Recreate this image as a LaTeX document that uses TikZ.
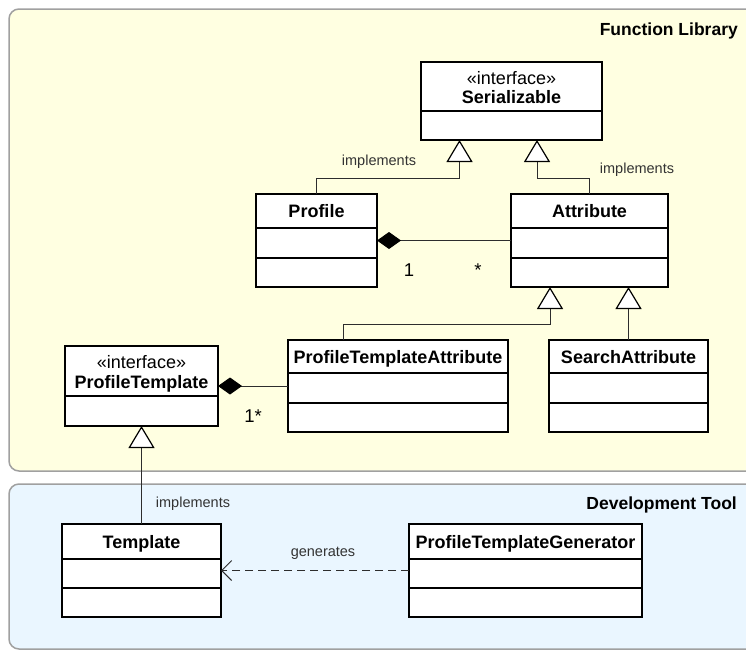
\documentclass[tikz,border=0pt]{standalone}
\usepackage{fontspec}
\setmainfont{Liberation Sans}
\usetikzlibrary{arrows.meta,calc}
\definecolor{libfill}{RGB}{255,255,225}
\definecolor{toolfill}{RGB}{234,246,255}
\definecolor{panelline}{RGB}{160,160,160}
\definecolor{connline}{RGB}{45,45,45}

\begin{document}
\begin{tikzpicture}[x=1pt,y=-1pt,
  panel/.style={draw=panelline, line width=1.5pt, rounded corners=10pt},
  umlbox/.style={draw=black, line width=1.6pt, fill=white, inner sep=0pt, outer sep=0pt, anchor=north west},
  divider/.style={draw=black, line width=1.6pt},
  clsname/.style={font=\fontsize{18}{20}\selectfont\bfseries, inner sep=0pt, text height=12.9pt, text depth=0pt},
  stereo/.style={font=\fontsize{18}{20}\selectfont, inner sep=0pt, text height=12.9pt, text depth=0pt},
  paneltitle/.style={font=\fontsize{17.5}{20}\selectfont\bfseries, inner sep=0pt, text height=12.6pt, text depth=0pt, anchor=east},
  lbl/.style={font=\fontsize{14.5}{16}\selectfont, inner sep=0pt, text height=10.4pt, text depth=0pt, text=black!80},
  mult/.style={font=\fontsize{18.5}{20}\selectfont, inner sep=0pt, text height=13.3pt, text depth=0pt},
  gen/.style={draw=connline, line width=1pt,
    -{Triangle[open, length=22pt, width=26pt, line width=1.2pt, fill=white, color=black]}},
  comp/.style={draw=connline, line width=1pt,
    {Diamond[length=24pt, width=17pt, fill=black, color=black]}-},
  dep/.style={draw=connline, line width=1.2pt, dash pattern=on 8pt off 5pt,
    -{Straight Barb[length=10pt, width=20pt, line width=1pt, color=connline]}}
]
\useasboundingbox (0,0) rectangle (746,651);

% package panels
\draw[panel, fill=libfill] (9,9) rectangle (775,471);
\draw[panel, fill=toolfill] (9,484) rectangle (775,649);
\node[paneltitle] (libT) at (738,29) {Function Library};
\node[paneltitle] (toolT) at (737,503) {Development Tool};

% classes
\node[umlbox, minimum width=181pt, minimum height=78pt] (Ser) at (421,62) {};
\draw[divider] ($(Ser.north west)+(0,49)$) -- ($(Ser.north east)+(0,49)$);
\node[stereo] (SerS) at ($(Ser.north)+(0,16)$) {«interface»};
\node[clsname] (SerN) at ($(Ser.north)+(0,35)$) {Serializable};

\node[umlbox, minimum width=121pt, minimum height=93pt] (Profile) at (256,194) {};
\draw[divider] ($(Profile.north west)+(0,34)$) -- ($(Profile.north east)+(0,34)$);
\draw[divider] ($(Profile.north west)+(0,64)$) -- ($(Profile.north east)+(0,64)$);
\node[clsname] (ProfileN) at ($(Profile.north)+(0,17)$) {Profile};

\node[umlbox, minimum width=157pt, minimum height=93pt] (Attr) at (511,194) {};
\draw[divider] ($(Attr.north west)+(0,34)$) -- ($(Attr.north east)+(0,34)$);
\draw[divider] ($(Attr.north west)+(0,64)$) -- ($(Attr.north east)+(0,64)$);
\node[clsname] (AttrN) at ($(Attr.north)+(0,17)$) {Attribute};

\node[umlbox, minimum width=220pt, minimum height=92pt] (PTA) at (288,340) {};
\draw[divider] ($(PTA.north west)+(0,33)$) -- ($(PTA.north east)+(0,33)$);
\draw[divider] ($(PTA.north west)+(0,63)$) -- ($(PTA.north east)+(0,63)$);
\node[clsname] (PTAN) at ($(PTA.north)+(0,17)$) {ProfileTemplateAttribute};

\node[umlbox, minimum width=159pt, minimum height=92pt] (SA) at (549,340) {};
\draw[divider] ($(SA.north west)+(0,33)$) -- ($(SA.north east)+(0,33)$);
\draw[divider] ($(SA.north west)+(0,63)$) -- ($(SA.north east)+(0,63)$);
\node[clsname] (SAN) at ($(SA.north)+(0,17)$) {SearchAttribute};

\node[umlbox, minimum width=153pt, minimum height=80pt] (PT) at (65,346) {};
\draw[divider] ($(PT.north west)+(0,50)$) -- ($(PT.north east)+(0,50)$);
\node[stereo] (PTS) at ($(PT.north)+(0,16)$) {«interface»};
\node[clsname] (PTN) at ($(PT.north)+(0,36)$) {ProfileTemplate};

\node[umlbox, minimum width=159pt, minimum height=93pt] (Tmpl) at (62,524) {};
\draw[divider] ($(Tmpl.north west)+(0,35)$) -- ($(Tmpl.north east)+(0,35)$);
\draw[divider] ($(Tmpl.north west)+(0,64)$) -- ($(Tmpl.north east)+(0,64)$);
\node[clsname] (TmplN) at ($(Tmpl.north)+(0,18)$) {Template};

\node[umlbox, minimum width=233pt, minimum height=93pt] (PTG) at (409,524) {};
\draw[divider] ($(PTG.north west)+(0,35)$) -- ($(PTG.north east)+(0,35)$);
\draw[divider] ($(PTG.north west)+(0,64)$) -- ($(PTG.north east)+(0,64)$);
\node[clsname] (PTGN) at ($(PTG.north)+(0,18)$) {ProfileTemplateGenerator};

% realisations and generalisations
\draw[gen] (Profile.north) -- ++(0,-16) -| ($(Ser.south)+(-52,0)$);
\draw[gen] (Attr.north) -- ++(0,-16) -| ($(Ser.south)+(25.5,0)$);
\draw[gen] ($(PTA.north)+(-55,0)$) -- ++(0,-16) -| ($(Attr.south)+(-39.5,0)$);
\draw[gen] (SA.north) -- (SA.north |- Attr.south);
\draw[gen] (Tmpl.north) -- (PT.south);

% compositions
\draw[comp] (Profile.east) -- (Attr.west |- Profile.east);
\draw[comp] (PT.east) -- (PTA.west |- PT.east);

% dependency
\draw[dep] (PTG.west) -- (Tmpl.east |- PTG.west);

% connector labels
\node[lbl] (implL) at (379,160) {implements};
\node[lbl] (implR) at (637,168) {implements};
\node[lbl] (implB) at (193,502) {implements};
\node[lbl] (genL) at (323,551) {generates};
\node[mult] (mOne) at (409,270) {1};
\node[mult] (mMany) at (478,270) {*};
\node[mult] (mPT) at (253,416) {1*};
\end{tikzpicture}
\end{document}
